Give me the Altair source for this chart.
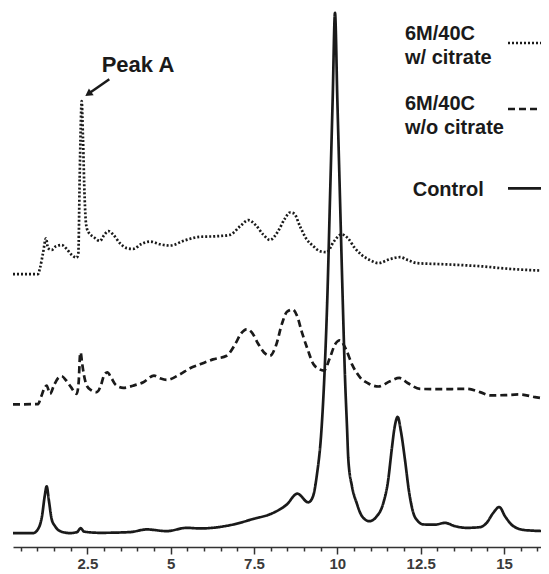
import altair as alt
import pandas as pd

# ---------------- data ----------------
series_names = ["6M/40C w/ citrate", "6M/40C w/o citrate", "Control"]
legend_labels = ["6M/40C\nw/ citrate", "6M/40C\nw/o citrate", "Control"]

control_time = [0.27, 0.87, 1.02, 1.14, 1.22, 1.28, 1.35, 1.43, 1.53, 1.68, 1.98, 2.19, 2.30, 2.40,
                2.88, 3.78, 4.28, 4.88, 5.48, 5.88, 6.88, 7.48, 8.03, 8.48, 8.80, 9.13, 9.27, 9.38,
                9.53, 9.61, 9.70, 9.78, 9.86, 9.93, 10.00, 10.08, 10.16, 10.23, 10.29, 10.33, 10.44,
                10.58, 10.74, 10.96, 11.16, 11.38, 11.52, 11.63, 11.72, 11.81, 11.91, 12.03, 12.15,
                12.28, 12.42, 12.58, 12.93, 13.23, 13.53, 13.88, 14.28, 14.48, 14.67, 14.86, 15.03,
                15.28, 15.63, 16.28]
control_signal = [14, 14, 18, 31, 51, 61, 46, 28, 21, 16, 14, 15, 19, 15.5,
                  14.3, 15, 17.7, 16, 19.3, 18.7, 22.7, 28.3, 33.7, 42.7, 53.7, 45, 51, 71,
                  121, 171, 251, 351, 451, 538, 451, 351, 251, 171, 121, 88, 61,
                  44.3, 31, 26, 30, 44.3, 66, 97.7, 121, 131, 116, 87.7, 56,
                  34.3, 26, 22.7, 22.5, 24.3, 21, 19.3, 20, 24.3, 34, 40.3, 31,
                  21, 17, 16]

citrate_time = [0.27, 1.02, 1.08, 1.17, 1.26, 1.32, 1.43, 1.56, 1.73, 1.86, 2.01, 2.18, 2.23, 2.27,
                2.30, 2.33, 2.37, 2.42, 2.46, 2.52, 2.70, 2.88, 3.00, 3.13, 3.27, 3.48, 3.69, 3.88,
                4.11, 4.38, 4.68, 4.98, 5.43, 5.88, 6.33, 6.78, 7.08, 7.33, 7.56, 7.77, 7.98, 8.22,
                8.43, 8.58, 8.70, 8.88, 9.06, 9.28, 9.48, 9.68, 9.90, 10.13, 10.32, 10.53, 10.74,
                10.98, 11.23, 11.58, 11.88, 12.12, 12.38, 13.08, 13.88, 14.43, 14.88, 15.48, 16.28]
citrate_signal = [275, 275, 281, 296, 311, 301, 299.3, 303, 304.3, 301, 295, 291.5, 296, 371,
                  421, 449.3, 411, 351, 326, 318, 312, 308.3, 314, 318.3, 315, 306, 301, 300.3,
                  305, 307.7, 305, 303.7, 309, 312.5, 313, 314.5, 323, 329.3, 324, 315, 309.3, 318,
                  331, 337, 336, 323, 311, 303, 298, 297, 308, 315, 311, 301, 294,
                  289, 286, 290, 292, 289, 286, 285, 283.7, 282.5, 281, 279.5, 278.3]

nocitrate_time = [0.27, 1.02, 1.11, 1.20, 1.28, 1.38, 1.50, 1.62, 1.73, 1.86, 2.01, 2.18, 2.24, 2.28,
                  2.30, 2.34, 2.40, 2.48, 2.61, 2.78, 2.91, 3.00, 3.10, 3.21, 3.36, 3.58, 3.87, 4.18,
                  4.50, 4.68, 4.88, 5.28, 5.58, 5.88, 6.27, 6.68, 6.93, 7.11, 7.28, 7.44, 7.62, 7.80,
                  7.98, 8.16, 8.34, 8.49, 8.66, 8.79, 8.94, 9.12, 9.28, 9.42, 9.60, 9.78, 9.93, 10.08,
                  10.26, 10.44, 10.68, 10.92, 11.23, 11.58, 11.86, 12.12, 12.48, 13.08, 13.88, 14.28,
                  14.58, 15.03, 15.48, 15.93, 16.28]
nocitrate_signal = [143.7, 144, 151, 159, 162.7, 154.3, 163, 170, 172, 168, 161, 154.3, 166, 193,
                    196, 186, 173, 162.7, 158, 156, 163, 173, 176, 171, 163, 160.3, 162.5, 166,
                    172.7, 170, 168.3, 174, 180, 184, 189, 192.7, 204, 215, 219.3, 216, 205, 196,
                    192.7, 203, 225, 237, 239.3, 233, 216, 198, 184.3, 180, 177.7, 191, 204, 208.3,
                    199, 184, 171, 165, 161.7, 167, 170.3, 165, 159.3, 159, 159.3, 156,
                    152.7, 153, 153.7, 151, 149.3]

tick_values = [0.5 * i for i in range(1, 33)]

# ---------------- build table ----------------
rows = []
for name, times, sig in [
    (series_names[0], citrate_time, citrate_signal),
    (series_names[1], nocitrate_time, nocitrate_signal),
    (series_names[2], control_time, control_signal),
]:
    for t, s in zip(times, sig):
        rows.append({"series": name, "time": t, "signal": s})
df = pd.DataFrame(rows)

INK = "#1a1a1a"
FONT = "Liberation Sans"
dashes = [[2, 2], [7, 4], [1, 0]]
LW = 2.7

x_scale = alt.Scale(domain=[0.27, 16.11], nice=False, zero=False)
y_scale = alt.Scale(domain=[0, 543], nice=False, zero=False)

lines = alt.Chart(df).mark_line(
    interpolate="monotone", strokeWidth=LW, color=INK, clip=True
).encode(
    x=alt.X("time:Q", scale=x_scale, title=None,
            axis=alt.Axis(values=tick_values,
                          labelExpr="datum.value % 2.5 === 0 ? toString(datum.value) : ''",
                          labelOverlap=False, labelFlush=False,
                          tickSize={"condition": {"test": "datum.value % 2.5 === 0", "value": 7}, "value": 4},
                          tickWidth=1.5, tickColor="#333", domainColor="#333", domainWidth=1.5,
                          labelFont=FONT, labelFontSize=15, labelFontWeight="bold",
                          labelColor="#3a3a3a", labelPadding=2, grid=False)),
    y=alt.Y("signal:Q", scale=y_scale, axis=None),
    strokeDash=alt.StrokeDash("series:N",
                              scale=alt.Scale(domain=series_names, range=dashes),
                              legend=None),
)

layers = [lines]

# ---------------- legend (text left of line sample) ----------------
legend_text_x = [392, 392, 399.7]
legend_text_y = [32, 102, 187.5]
legend_line_y = [35, 101, 180.3]
for i, lab in enumerate(legend_labels):
    for j, part in enumerate(lab.split("\n")):
        layers.append(
            alt.Chart(pd.DataFrame({"label": [part]})).mark_text(
                align="left", baseline="alphabetic", font=FONT, fontSize=20,
                fontWeight="bold", color=INK
            ).encode(text="label:N",
                     x=alt.value(legend_text_x[i]),
                     y=alt.value(legend_text_y[i] + j * 23.5))
        )
    layers.append(
        alt.Chart(pd.DataFrame({"series": [series_names[i]]})).mark_rule(
            strokeWidth=LW, color=INK, strokeDash=dashes[i]
        ).encode(x=alt.value(495), x2=alt.value(540),
                 y=alt.value(legend_line_y[i]))
    )

# ---------------- Peak A annotation ----------------
layers.append(
    alt.Chart(pd.DataFrame({"label": ["Peak A"]})).mark_text(
        align="left", baseline="alphabetic", font=FONT, fontSize=22,
        fontWeight="bold", color=INK
    ).encode(text="label:N", x=alt.value(88.7), y=alt.value(63.7))
)
layers.append(
    alt.Chart(pd.DataFrame({"label": ["Peak A"]})).mark_rule(
        strokeWidth=2.5, color=INK
    ).encode(x=alt.value(96.3), y=alt.value(71.3), x2=alt.value(76.5), y2=alt.value(85))
)
layers.append(
    alt.Chart(pd.DataFrame({"label": ["Peak A"]})).mark_point(
        shape="triangle-up", filled=True, size=70, angle=235.5, color=INK, opacity=1
    ).encode(x=alt.value(75.3), y=alt.value(85.9))
)

chart = alt.layer(*layers).properties(
    width=528, height=539,
    padding={"left": 5, "top": 0, "right": 0, "bottom": 25},
    autosize=alt.AutoSizeParams(type="none"),
).configure_view(stroke=None)

chart.save("out.html", embed_options={"renderer": "svg", "actions": False})
